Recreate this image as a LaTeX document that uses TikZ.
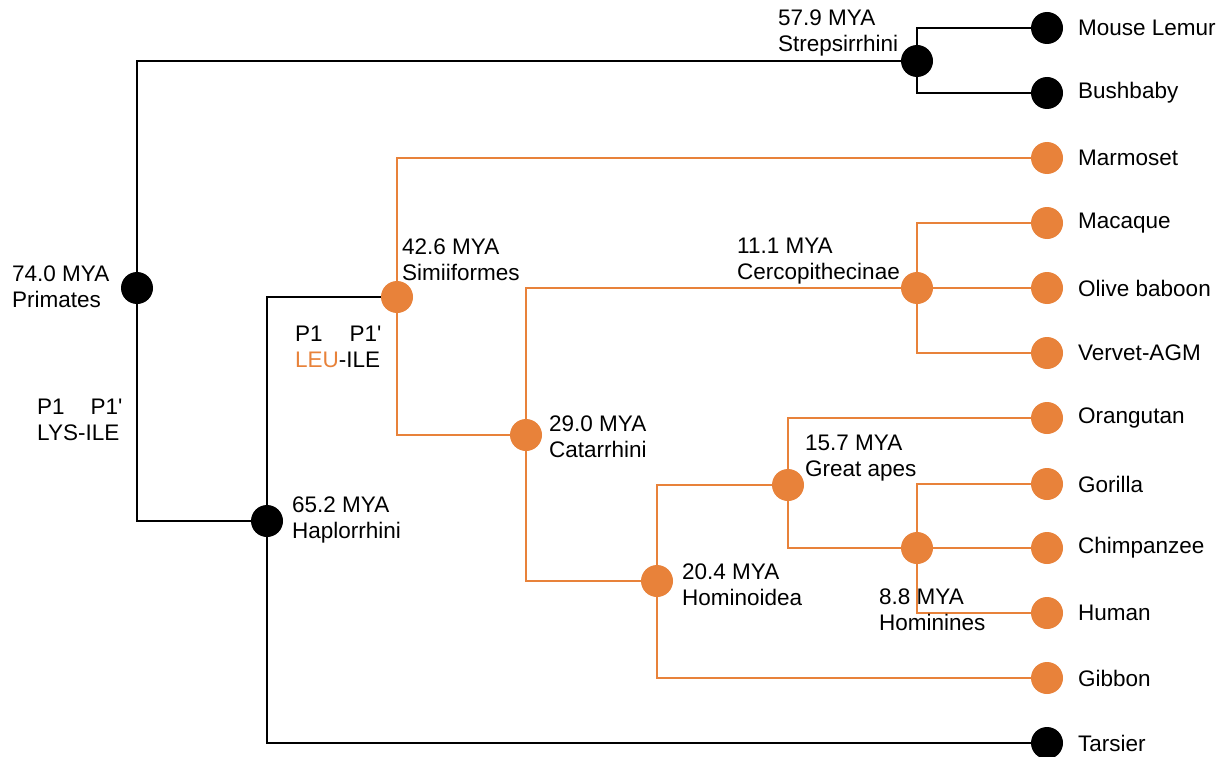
\documentclass[tikz,border=0pt]{standalone}
\usepackage{fontspec}
\newfontfamily\lab{Liberation Sans}
\definecolor{tor}{RGB}{232,130,58}
\begin{document}
\begin{tikzpicture}[x=1pt,y=-1pt,
  dotk/.style={circle,fill=black,minimum size=32pt,inner sep=0pt},
  doto/.style={circle,fill=tor,minimum size=32pt,inner sep=0pt},
  bline/.style={draw=black,line width=2pt},
  oline/.style={draw=tor,line width=1.8pt},
  lbl/.style={font=\lab\fontsize{22.5}{26}\selectfont,inner sep=0pt,anchor=west,align=left},
  leaf/.style={font=\lab\fontsize{22.5}{26}\selectfont,inner sep=0pt,anchor=west},
]
\useasboundingbox[fill=white] (0,0) rectangle (1223,757);

% internal nodes
\node[dotk] (prim) at (137,288) {};
\node[dotk] (strep) at (917,61) {};
\node[dotk] (hap) at (267,521) {};
\node[doto] (simi) at (397,297) {};
\node[doto] (cata) at (526,435) {};
\node[doto] (cerc) at (917,288) {};
\node[doto] (homd) at (657,581) {};
\node[doto] (grea) at (788,485) {};
\node[doto] (homn) at (917,548) {};

% leaves
\node[dotk] (lemur) at (1047,28) {};
\node[dotk] (bush) at (1047,93) {};
\node[doto] (marm) at (1047,158) {};
\node[doto] (maca) at (1047,223) {};
\node[doto] (olive) at (1047,288) {};
\node[doto] (verv) at (1047,353) {};
\node[doto] (oran) at (1047,418) {};
\node[doto] (gori) at (1047,484) {};
\node[doto] (chim) at (1047,548) {};
\node[doto] (huma) at (1047,613) {};
\node[doto] (gibb) at (1047,678) {};
\node[dotk] (tars) at (1047,743) {};

% edges
\draw[bline] (prim) |- (strep);
\draw[bline] (prim) |- (hap);
\draw[bline] (strep) |- (lemur);
\draw[bline] (strep) |- (bush);
\draw[bline] (hap) |- (simi);
\draw[bline] (hap) |- (tars);
\draw[oline] (simi) |- (marm);
\draw[oline] (simi) |- (cata);
\draw[oline] (cata) |- (cerc);
\draw[oline] (cata) |- (homd);
\draw[oline] (cerc) |- (maca);
\draw[oline] (cerc) -- (olive);
\draw[oline] (cerc) |- (verv);
\draw[oline] (homd) |- (grea);
\draw[oline] (homd) |- (gibb);
\draw[oline] (grea) |- (oran);
\draw[oline] (grea) |- (homn);
\draw[oline] (homn) |- (gori);
\draw[oline] (homn) -- (chim);
\draw[oline] (homn) |- (huma);

% internal labels
\node[lbl] (lprim) at (12,287) {74.0 MYA\\Primates};
\node[lbl] (lstrep) at (778,33) {57.9 MYA\\Strepsirrhini};
\node[lbl] (lhap) at (292,520) {65.2 MYA\\Haplorrhini};
\node[lbl] (lsimi) at (402,260) {42.6 MYA\\Simiiformes};
\node[lbl] (lcata) at (549,437) {29.0 MYA\\Catarrhini};
\node[lbl] (lcerc) at (737,261) {11.1 MYA\\Cercopithecinae};
\node[lbl] (lhomd) at (682,585) {20.4 MYA\\Hominoidea};
\node[lbl] (lgrea) at (805,458) {15.7 MYA\\Great apes};
\node[lbl] (lhomn) at (879,610) {8.8 MYA\\Hominines};
\node[lbl] (lys) at (37,420) {P1\hspace{26pt}P1'\\LYS-ILE};
\node[lbl] (leu) at (295,347) {P1\hspace{27pt}P1'\\\textcolor{tor}{LEU}-ILE};

% leaf labels
\node[leaf] at (1078,28) {Mouse Lemur};
\node[leaf] at (1078,93) {Bushbaby};
\node[leaf] at (1078,158) {Marmoset};
\node[leaf] at (1078,223) {Macaque};
\node[leaf] at (1078,288) {Olive baboon};
\node[leaf] at (1078,353) {Vervet-AGM};
\node[leaf] at (1078,418) {Orangutan};
\node[leaf] at (1078,484) {Gorilla};
\node[leaf] at (1078,548) {Chimpanzee};
\node[leaf] at (1078,613) {Human};
\node[leaf] at (1078,678) {Gibbon};
\node[leaf] at (1078,743) {Tarsier};
\end{tikzpicture}
\end{document}
